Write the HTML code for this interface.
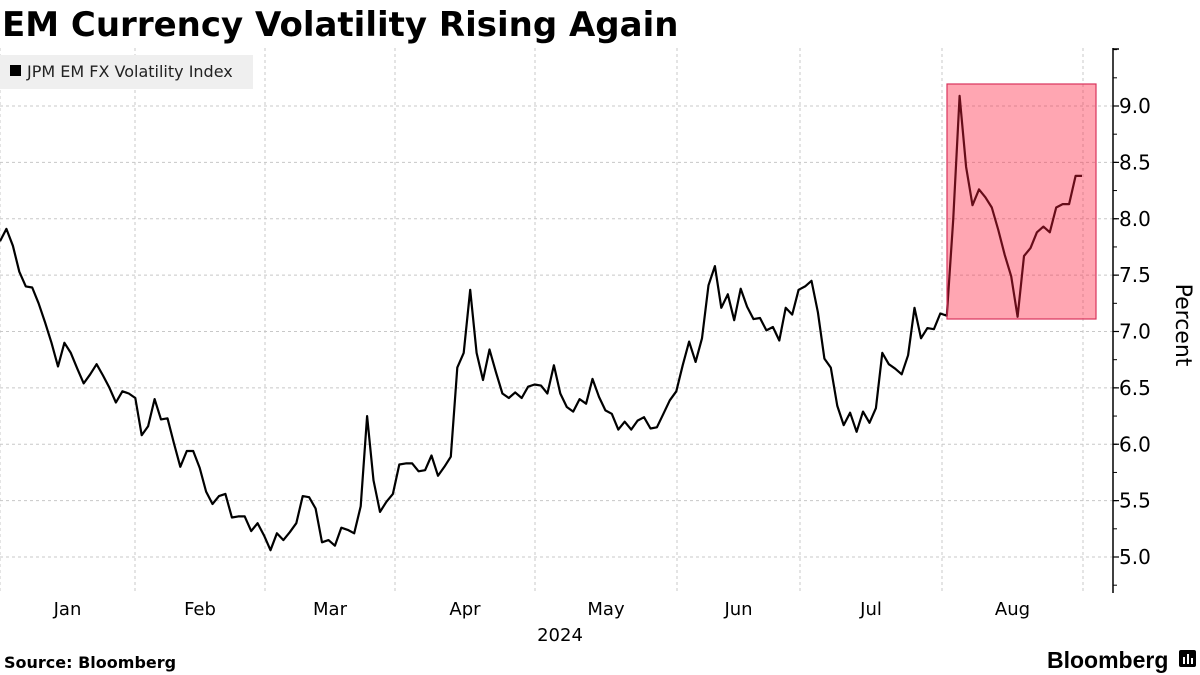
<!DOCTYPE html>
<html><head><meta charset="utf-8"><style>
html,body{margin:0;padding:0;background:#fff;}
svg{display:block;font-family:"DejaVu Sans","Liberation Sans",sans-serif;}
</style></head><body>
<svg id="chart" width="1200" height="675" viewBox="0 0 1200 675">
<text x="2" y="36" font-size="34" font-weight="bold" fill="#000">EM Currency Volatility Rising Again</text>
<g id="grid"></g>
<g id="yaxis"></g>
<g id="xaxis"></g>
<path id="line" fill="none" stroke="#000" stroke-width="2.2" stroke-linejoin="round"/>
<rect x="947" y="84" width="149" height="235" fill="rgba(255,33,62,0.4)" stroke="#d8345c" stroke-width="1.2"/>
<g>
<rect x="0" y="55" width="253" height="34" fill="#efefef"/>
<rect x="10" y="65" width="11" height="11" fill="#000"/>
<text x="27" y="77" font-size="16" fill="#222">JPM EM FX Volatility Index</text>
</g>
<text transform="translate(1176,325) rotate(90)" text-anchor="middle" font-size="22" fill="#000">Percent</text>
<text x="560" y="641" text-anchor="middle" font-size="18" fill="#000">2024</text>
<text x="4" y="668" font-size="16" font-weight="bold" fill="#000">Source: Bloomberg</text>
<text x="1047" y="668" font-size="23" font-weight="bold" fill="#000" font-family="Liberation Sans, sans-serif">Bloomberg</text>
<g>
<rect x="1179" y="650" width="17" height="17" rx="2" fill="#000"/>
<rect x="1183" y="657" width="2" height="7" fill="#fff"/><rect x="1187" y="654" width="2" height="10" fill="#fff"/><rect x="1191" y="658" width="2" height="6" fill="#fff"/>
</g>
</svg>
<script>
const values = [7.80,7.91,7.76,7.53,7.40,7.39,7.25,7.08,6.90,6.69,6.90,6.81,6.67,6.54,6.62,6.71,6.61,6.50,6.37,6.47,6.45,6.41,6.08,6.16,6.40,6.22,6.23,6.01,5.80,5.94,5.94,5.79,5.58,5.47,5.54,5.56,5.35,5.36,5.36,5.23,5.30,5.19,5.06,5.21,5.15,5.22,5.30,5.54,5.53,5.43,5.13,5.15,5.10,5.26,5.24,5.21,5.45,6.25,5.68,5.40,5.49,5.56,
5.82,5.83,5.83,5.76,5.77,5.90,5.72,5.80,5.89,6.68,6.81,7.37,6.81,6.57,6.84,6.64,6.45,6.41,6.46,6.41,6.51,6.53,6.52,6.45,6.70,6.45,6.33,6.29,6.40,6.36,6.58,6.42,6.30,6.27,6.13,6.20,6.13,6.21,6.24,6.14,6.15,6.27,6.39,6.47,6.70,6.91,6.73,6.94,7.41,7.58,7.21,7.33,7.10,7.38,7.22,7.11,7.12,7.01,7.04,6.92,7.21,
7.15,7.37,7.40,7.45,7.17,6.76,6.68,6.34,6.17,6.28,6.11,6.29,6.19,6.32,6.81,6.71,6.67,6.62,6.79,7.21,6.94,7.03,7.02,7.16,7.14,7.99,9.09,8.46,8.12,8.26,8.19,8.10,7.90,7.68,7.49,7.13,7.67,7.74,7.88,7.93,7.88,8.10,8.13,8.13,8.38,8.38];
const yTicks = [5.0,5.5,6.0,6.5,7.0,7.5,8.0,8.5,9.0];
const yTickLabels = ["5.0","5.5","6.0","6.5","7.0","7.5","8.0","8.5","9.0"];
const months = ["Jan","Feb","Mar","Apr","May","Jun","Jul","Aug"];

const NS = "http://www.w3.org/2000/svg";
const X0 = 0, X1 = 1082, AXIS_X = 1113, TOP = 48, BOTTOM = 593;
function xScale(i){ return X0 + (X1 - X0) * i / (values.length - 1); }
function yScale(v){ return 557 - (v - 5) * 112.75; }
function mk(tag, attrs, parent){ const e = document.createElementNS(NS, tag); for (const k in attrs) e.setAttribute(k, attrs[k]); parent.appendChild(e); return e; }

const grid = document.getElementById('grid');
const yaxis = document.getElementById('yaxis');
const xaxis = document.getElementById('xaxis');

yTicks.forEach((t, k) => {
  const y = yScale(t);
  const g = mk('line', {x1:0, x2:AXIS_X, y1:y, y2:y, stroke:'#c8c8c8', 'stroke-width':1, 'stroke-dasharray':'3,3'}, grid);
  
  
  const tk = mk('line', {x1:AXIS_X, x2:AXIS_X+6, y1:y, y2:y, stroke:'#000', 'stroke-width':1.2}, yaxis);
  
  
  const lb = mk('text', {x:AXIS_X+6, y:y+7, 'font-size':20, fill:'#000'}, yaxis);
  lb.textContent = yTickLabels[k];
  
  
});
for (let v = 4.75; v <= 9.51; v += 0.25) {
  const y = yScale(v);
  if (y < TOP || y > BOTTOM) continue;
  const m = mk('line', {x1:AXIS_X, x2:AXIS_X+4, y1:y, y2:y, stroke:'#000', 'stroke-width':1}, yaxis);
  
  
}
const ax = mk('line', {x1:AXIS_X, x2:AXIS_X, y1:TOP, y2:BOTTOM, stroke:'#000', 'stroke-width':1.5}, yaxis);


const topTick = mk('line', {x1:AXIS_X, x2:AXIS_X+6, y1:TOP+1, y2:TOP+1, stroke:'#000', 'stroke-width':1.5}, yaxis);



const bounds = [0,135,265,395,535,677,800,942,1083];
bounds.forEach(x => {
  const g = mk('line', {x1:x, x2:x, y1:TOP, y2:BOTTOM, stroke:'#c8c8c8', 'stroke-width':1, 'stroke-dasharray':'3,3'}, grid);
  
  
});
months.forEach((m, k) => {
  const cx = (bounds[k] + bounds[k+1]) / 2;
  const t = mk('text', {x:cx, y:615, 'text-anchor':'middle', 'font-size':18, fill:'#000'}, xaxis);
  t.textContent = m;
  
  
});

document.getElementById('line').setAttribute('d', values.map((v, i) => (i ? 'L' : 'M') + xScale(i).toFixed(1) + ',' + yScale(v).toFixed(1)).join(' '));
</script>
</body></html>
